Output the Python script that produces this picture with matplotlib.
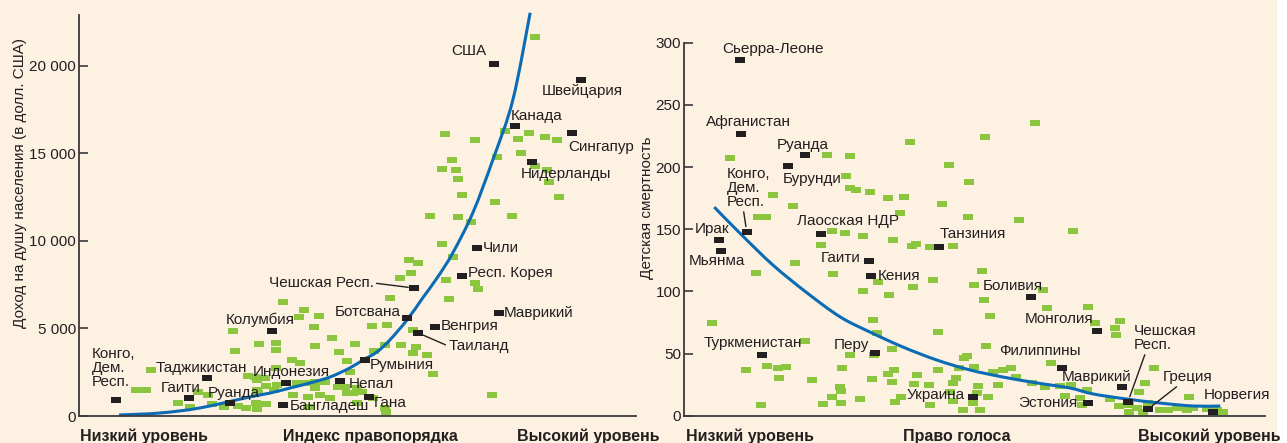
import matplotlib
matplotlib.use("Agg")
import matplotlib.pyplot as plt
from matplotlib.path import Path
from matplotlib.patches import Rectangle, PathPatch

plt.rcParams['font.family'] = ['Liberation Sans', 'DejaVu Sans']

# ---------------- Left panel data: rule of law index (0-100 scale) vs income ----------------
law_green = [10.2, 12.0, 12.9, 17.8, 19.9, 21.4, 23.2, 23.9, 26.0, 28.5, 30.0, 27.6, 28.0, 30.3,
             32.0, 32.0, 32.3, 33.6, 31.8, 33.6, 35.0, 35.4, 35.4, 35.5, 35.4, 32.1, 33.4, 36.6,
             38.2, 39.7, 39.1, 40.6, 38.4, 41.1, 40.4, 39.5, 43.1, 42.2, 42.4, 42.4, 42.4, 44.2,
             43.3, 45.1, 41.1, 45.4, 46.7, 46.5, 47.7, 48.1, 49.2, 50.8, 49.9, 48.1, 48.6, 49.5,
             49.9, 52.6, 55.3, 52.8, 54.9, 55.1, 53.0, 54.9, 57.8, 60.0, 60.5, 62.5, 60.0, 63.5,
             55.8, 57.6, 59.6, 59.2, 60.9, 65.9, 66.4, 71.1, 71.6, 65.2, 67.1, 63.0, 68.0, 70.4,
             77.7, 68.7, 74.7, 86.2, 65.2, 67.7, 68.0, 67.0, 75.0, 79.3, 81.9, 84.0, 84.4, 65.7,
             71.1, 76.5, 78.8, 80.8, 83.6, 85.8, 81.9, 74.1, 31.6, 32.0]
income_green = [1490, 1490, 2630, 740, 510, 1370, 1200, 690, 510, 570, 460, 4860, 3710, 2290,
                2060, 1490, 4110, 1710, 740, 690, 1490, 4170, 3770, 1770, 2740, 1310, 2170, 6510,
                3200, 3030, 1890, 1890, 1200, 1090, 6060, 5660, 5710, 5090, 4000, 1940, 1600, 1940,
                1200, 1030, 510, 4460, 3660, 1660, 1660, 1310, 1310, 1370, 1600, 3140, 2510, 4110,
                740, 5140, 5200, 1030, 460, 230, 3710, 4060, 4060, 3600, 3940, 3490, 4910, 2400,
                6740, 7890, 8170, 8910, 8740, 7770, 6690, 7600, 7260, 9830, 9090, 11430, 11370, 11090,
                11430, 12630, 12230, 12510, 14110, 14060, 13540, 14630, 14800, 15030, 14290, 14060, 13370, 16110,
                15770, 16290, 15830, 16170, 15940, 15770, 21660, 1200, 2230, 400]

law_names = ["Конго,\nДем.\nРесп.", "Таджикистан", "Гаити", "Руанда", "Колумбия", "Индонезия",
             "Бангладеш", "Непал", "Гана", "Румыния", "Ботсвана", "Чешская Респ.", "Таиланд",
             "Венгрия", "Маврикий", "Респ. Корея", "Чили", "Нидерланды", "Сингапур", "Канада",
             "Швейцария", "США"]
law_named = [6.6, 23.0, 19.7, 27.1, 34.6, 37.2, 36.6, 46.8, 52.1, 51.3, 58.9, 60.1, 60.9,
             63.9, 75.4, 68.7, 71.4, 81.3, 88.5, 78.3, 90.1, 74.5]
income_named = [910, 2170, 1030, 740, 4860, 1890, 630, 2000, 1090, 3200, 5600, 7310, 4740,
                5090, 5890, 8000, 9600, 14510, 16170, 16570, 19200, 20110]

law_trend = [7.2, 14.5, 21.7, 30.7, 34.3, 37.9, 41.5, 45.1, 48.6, 51.0, 53.5, 55.8, 58.9,
             61.7, 64.3, 67.1, 70.7, 74.3, 77.9, 81.0]
income_trend = [60, 170, 460, 1090, 1310, 1600, 1890, 2230, 2740, 3200, 3660, 4340, 5490,
                6740, 7890, 9310, 11600, 14630, 18060, 23030]

left_ticks = [0, 5000, 10000, 15000, 20000]
left_ticklabels = ["0", "5 000", "10 000", "15 000", "20 000"]

# ---------------- Right panel data: voice index (0-100 scale) vs child mortality ----------------
voice_green = [7.9, 15.3, 12.7, 14.1, 18.8, 24.6, 28.6, 27.9, 28.6, 29.6, 32.0, 35.1, 37.9, 37.2,
               38.9, 45.6, 44.4, 49.0, 48.9, 25.5, 27.7, 30.8, 36.0, 23.6, 39.2, 39.9, 42.3, 46.3,
               19.1, 12.4, 25.6, 33.4, 42.9, 30.8, 35.3, 39.4, 4.8, 32.5, 33.2, 43.7, 20.8, 35.8,
               28.6, 32.7, 48.2, 48.7, 10.7, 14.3, 16.2, 17.6, 16.4, 22.0, 27.2, 32.4, 35.1, 36.1,
               35.8, 40.1, 43.7, 47.3, 46.8, 46.3, 26.9, 27.0, 25.5, 30.3, 23.9, 27.0, 13.3, 37.3,
               36.3, 39.6, 42.2, 42.3, 45.8, 46.3, 48.0, 60.4, 51.8, 57.7, 67.0, 51.3, 49.9, 61.8,
               51.6, 62.5, 69.5, 52.7, 70.7, 75.0, 74.2, 74.4, 52.0, 63.2, 49.9, 53.2, 54.9, 56.3,
               57.1, 50.6, 50.4, 52.3, 54.0, 49.7, 50.9, 59.9, 62.1, 64.7, 66.6, 65.6, 68.2, 68.5,
               69.4, 73.3, 74.9, 78.3, 79.3, 80.9, 76.6, 76.6, 78.0, 79.0, 79.9, 81.9, 83.3, 84.9,
               86.6, 87.6, 86.9, 90.0, 91.7, 92.8]
mort_green = [207.2, 177.4, 159.8, 159.8, 168.6, 209.6, 208.8, 192.7, 183.1, 181.5, 179.9, 175.0, 175.8, 163.0,
              220.1, 201.6, 170.2, 187.9, 159.8, 148.5, 146.9, 144.5, 141.3, 137.3, 136.5, 138.0, 135.6, 136.5,
              122.6, 114.6, 113.8, 107.4, 109.1, 100.2, 97.0, 103.5, 74.5, 76.9, 66.5, 67.3, 60.1, 53.6,
              48.8, 48.8, 46.4, 48.0, 36.7, 40.0, 38.4, 39.2, 30.3, 28.7, 38.4, 29.5, 33.5, 36.7,
              27.1, 32.7, 36.7, 38.4, 30.3, 26.3, 23.1, 19.9, 15.0, 13.4, 9.4, 10.2, 8.6, 15.0,
              11.0, 25.5, 24.7, 8.6, 19.1, 11.8, 4.6, 235.3, 224.1, 157.3, 148.5, 116.3, 105.1, 101.1,
              93.0, 86.6, 87.4, 80.2, 74.5, 76.1, 70.5, 64.9, 56.0, 42.4, 39.2, 35.1, 36.7, 38.4,
              31.1, 23.9, 18.3, 15.0, 24.7, 10.2, 4.6, 26.3, 23.1, 23.9, 24.7, 15.8, 14.2, 8.6,
              20.7, 13.4, 7.8, 19.1, 26.3, 38.4, 8.6, 3.0, 6.2, 3.0, 10.2, 4.6, 4.6, 6.2,
              4.6, 6.2, 15.0, 5.4, 4.6, 3.0]

voice_names = ["Сьерра-Леоне", "Афганистан", "Руанда", "Бурунди", "Конго,\nДем.\nРесп.", "Ирак",
               "Мьянма", "Лаосская НДР", "Танзиния", "Гаити", "Кения", "Туркменистан", "Перу",
               "Украина", "Боливия", "Монголия", "Филиппины", "Маврикий", "Эстония",
               "Чешская\nРесп.", "Греция", "Норвегия"]
voice_named = [9.6, 9.8, 20.8, 17.9, 10.8, 6.0, 6.4, 23.6, 43.9, 31.8, 32.2, 13.4, 32.9,
               49.7, 59.7, 71.1, 65.1, 75.4, 69.5, 76.4, 79.9, 91.0]
mort_named = [286.0, 226.5, 209.6, 200.8, 147.7, 141.3, 132.4, 146.1, 135.6, 124.4, 112.3, 48.8, 50.4,
              15.0, 95.4, 68.1, 38.4, 23.1, 10.2, 11.0, 5.4, 3.0]

voice_trend = [5.2, 9.6, 15.3, 21.2, 26.9, 32.0, 37.7, 43.5, 49.2, 54.9, 60.8, 66.4, 70.4,
               76.2, 81.9, 87.6, 92.3]
mort_trend = [167.8, 146.9, 121.2, 98.7, 79.4, 67.3, 55.2, 44.8, 36.8, 31.1, 26.3, 22.3, 17.5,
              13.4, 10.2, 7.8, 7.8]

right_ticks = [0, 50, 100, 150, 200, 250, 300]

# ---------------- Styles / layout ----------------
BG = "#FDF1E2"
GREEN = "#8CC63F"
BLACK = "#231F20"
BLUE = "#0B6CB5"
AXC = "#3A3A3A"
TXT = "#231F20"
W, H = 1287, 443

rect = Path([(-1, -0.72), (1, -0.72), (1, 0.72), (-1, 0.72), (-1, -0.72)],
            [Path.MOVETO, Path.LINETO, Path.LINETO, Path.LINETO, Path.CLOSEPOLY])

fig = plt.figure(figsize=(W / 100, H / 100), dpi=100, facecolor="white")
fig.patches.append(Rectangle((0, 0), 1277 / W, 1, transform=fig.transFigure,
                             facecolor=BG, edgecolor="none", zorder=-10))


def px_axes(x0, x1, ybot, ytop):
    return fig.add_axes([x0 / W, (H - ybot) / H, (x1 - x0) / W, (ybot - ytop) / H])


def style_axes(ax):
    ax.set_facecolor("none")
    for s in ("top", "right"):
        ax.spines[s].set_visible(False)
    for s in ("left", "bottom"):
        ax.spines[s].set_color(AXC)
        ax.spines[s].set_linewidth(1.3)
    ax.tick_params(axis="y", direction="in", length=6.5, width=1.2, color=AXC,
                   labelsize=11, labelcolor=TXT, pad=2)
    ax.tick_params(axis="x", bottom=False, labelbottom=False)


def smooth_path(xs, ys):
    """Catmull-Rom rendering of the trend line through the read points (Bezier path)."""
    pts = list(zip(xs, ys))
    n = len(pts)
    verts = [pts[0]]
    codes = [Path.MOVETO]
    for i in range(n - 1):
        p0 = pts[i - 1] if i > 0 else pts[i]
        p1 = pts[i]
        p2 = pts[i + 1]
        p3 = pts[i + 2] if i + 2 < n else pts[i + 1]
        c1 = (p1[0] + (p2[0] - p0[0]) / 6, p1[1] + (p2[1] - p0[1]) / 6)
        c2 = (p2[0] - (p3[0] - p1[0]) / 6, p2[1] - (p3[1] - p1[1]) / 6)
        verts += [c1, c2, p2]
        codes += [Path.CURVE4] * 3
    return Path(verts, codes)


# Offsets (pixels) and alignment for the labels
left_offsets = [(-24, 32, "left"), (-51, 10, "left"), (-28, 10, "left"), (-22, 10, "left"),
                (-46, 11, "left"), (-33, 11, "left"), (7, -1, "left"), (9, -3, "left"),
                (5, -6, "left"), (5, -5, "left"), (-6, 6, "right"), (-40, 5, "right"),
                (30, -13, "left"), (6, 1, "left"), (5, 0, "left"), (6, 3, "left"),
                (6, 0, "left"), (-11, -12, "left"), (-4, -14, "left"), (-4, 10, "left"),
                (-39, -11, "left"), (-43, 13, "left")]
left_leaders = {11: (1, 0.5), 12: (0, 0.5)}

right_offsets = [(-18, 11, "left"), (-35, 12, "left"), (-28, 10, "left"), (-5, -13, "left"),
                 (-20, 44, "left"), (-24, 11, "left"), (-32, -10, "left"), (-24, 13, "left"),
                 (1, 13, "left"), (-8, 3, "right"), (7, 0, "left"), (-58, 12, "left"),
                 (-6, 8, "right"), (-8, 2, "right"), (-48, 11, "left"), (-4, 12, "right"),
                 (-63, 17, "left"), (-60, 10, "left"), (-10, 0, "right"), (6, 64, "left"),
                 (15, 32, "left"), (-9, 17, "left")]
right_leaders = {4: (0.38, 0), 19: (0.19, 0), 20: (0.34, 0)}


def draw_panel(ax, xg, yg, xn, yn, names, xt, yt, offsets, leaders):
    ax.plot(xg, yg, linestyle="none", marker=rect, markersize=6.8, markeredgewidth=0,
            color=GREEN, zorder=2, clip_on=False)
    ax.add_patch(PathPatch(smooth_path(xt, yt), facecolor="none", edgecolor=BLUE,
                           linewidth=2.2, zorder=2.5, clip_on=False, capstyle="butt"))
    ax.plot(xn, yn, linestyle="none", marker=rect, markersize=6.8, markeredgewidth=0,
            color=BLACK, zorder=3, clip_on=False)
    for i, (name, x, y) in enumerate(zip(names, xn, yn)):
        dx, dy, ha = offsets[i]
        kw = {}
        if i in leaders:
            kw["arrowprops"] = dict(arrowstyle="-", color=BLACK, lw=1.0, shrinkA=0, shrinkB=4,
                                    relpos=leaders[i])
        ax.annotate(name, (x, y), xytext=(dx, dy), textcoords="offset pixels",
                    ha=ha, va="center", fontsize=11, color=TXT, linespacing=1.0,
                    zorder=4, annotation_clip=False, **kw)


# Left panel
axL = px_axes(79, 636, 416, 15)
style_axes(axL)
axL.set_xlim(0, 100)
axL.set_ylim(0, 22900)
axL.set_yticks(left_ticks)
axL.set_yticklabels(left_ticklabels)
draw_panel(axL, law_green, income_green, law_named, income_named, law_names,
           law_trend, income_trend, left_offsets, left_leaders)

# Right panel
axR = px_axes(684, 1265, 415.7, 42.7)
style_axes(axR)
axR.set_xlim(0, 100)
axR.set_ylim(0, 300)
axR.set_yticks(right_ticks)
draw_panel(axR, voice_green, mort_green, voice_named, mort_named, voice_names,
           voice_trend, mort_trend, right_offsets, right_leaders)

# Axis titles
fig.text(20 / W, 1 - 183 / H, "Доход на душу населения (в долл. США)", rotation=90,
         ha="center", va="center", fontsize=11, color=TXT)
fig.text(647 / W, 1 - 208 / H, "Детская смертность", rotation=90,
         ha="center", va="center", fontsize=11, color=TXT)

bold = dict(fontsize=11.5, fontweight="bold", color=TXT, va="center")
yb = 1 - 436 / H
fig.text(80 / W, yb, "Низкий уровень", ha="left", **bold)
fig.text(370 / W, yb, "Индекс правопорядка", ha="center", **bold)
fig.text(660 / W, yb, "Высокий уровень", ha="right", **bold)
fig.text(686 / W, yb, "Низкий уровень", ha="left", **bold)
fig.text(957 / W, yb, "Право голоса", ha="center", **bold)
fig.text(1138 / W, yb, "Высокий уровень", ha="left", **bold)

fig.savefig("out.png", dpi=100, facecolor=fig.get_facecolor())
